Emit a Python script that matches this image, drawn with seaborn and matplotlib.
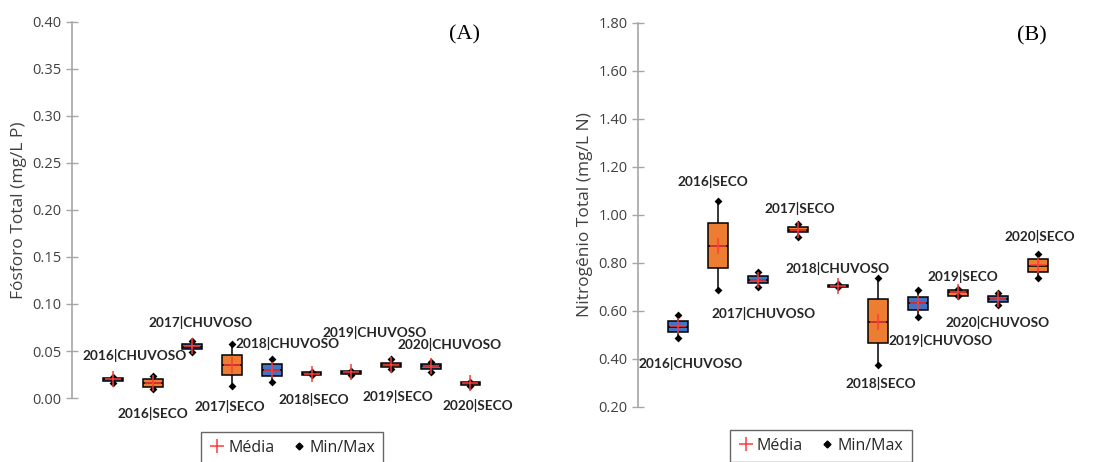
import numpy as np
import pandas as pd
import seaborn as sns
import matplotlib.pyplot as plt
from matplotlib.lines import Line2D

categories = ["2016|CHUVOSO", "2016|SECO", "2017|CHUVOSO", "2017|SECO",
              "2018|CHUVOSO", "2018|SECO", "2019|CHUVOSO", "2019|SECO",
              "2020|CHUVOSO", "2020|SECO"]
seasons = ["CHUVOSO", "SECO"] * 5

# Fosforo total (mg/L P)
p_min = [0.016, 0.0096, 0.049, 0.0132, 0.017, 0.0243, 0.025, 0.031, 0.028, 0.0133]
p_q1 = [0.0186, 0.0118, 0.052, 0.0243, 0.0232, 0.0244, 0.026, 0.033, 0.031, 0.0135]
p_med = [0.020, 0.016, 0.0546, 0.035, 0.030, 0.026, 0.0275, 0.035, 0.034, 0.016]
p_q3 = [0.0214, 0.0204, 0.057, 0.0457, 0.0364, 0.0274, 0.029, 0.0375, 0.0364, 0.0170]
p_max = [0.022, 0.023, 0.061, 0.057, 0.042, 0.0275, 0.0292, 0.041, 0.038, 0.0172]
p_mean = [0.020, 0.016, 0.055, 0.035, 0.030, 0.026, 0.028, 0.035, 0.034, 0.016]

# Nitrogenio total (mg/L N)
n_min = [0.485, 0.686, 0.700, 0.908, 0.697, 0.374, 0.572, 0.661, 0.624, 0.735]
n_q1 = [0.510, 0.779, 0.714, 0.926, 0.698, 0.467, 0.603, 0.663, 0.6375, 0.7625]
n_med = [0.533, 0.871, 0.730, 0.936, 0.704, 0.554, 0.631, 0.676, 0.649, 0.7875]
n_q3 = [0.557, 0.964, 0.744, 0.950, 0.709, 0.647, 0.656, 0.685, 0.661, 0.814]
n_max = [0.583, 1.058, 0.761, 0.961, 0.710, 0.735, 0.686, 0.692, 0.672, 0.836]
n_mean = [0.535, 0.871, 0.730, 0.936, 0.705, 0.554, 0.631, 0.676, 0.649, 0.790]

# label offsets (pixels) from each mean point
p_label_off = [(22, 24), (0, -31), (8, 24), (-2, -41), (16, 26),
               (2, -26), (23, 39), (7, -31), (19, 22), (7, -23)]
n_label_off = [(13, -37), (-5, 64), (6, -34), (2, 22), (0, 17),
               (3, -62), (23, -37), (5, 16), (0, -24), (2, 29)]

palette = {"CHUVOSO": "#4472C4", "SECO": "#ED7D31"}

sns.set_theme(style="white")
plt.rcParams["font.family"] = ["Open Sans", "DejaVu Sans"]


def long_table(mins, q1s, meds, q3s, maxs):
    rows = []
    for cat, sea, a, b, c, d, e in zip(categories, seasons, mins, q1s, meds, q3s, maxs):
        for v in (a, b, c, d, e):
            rows.append({"cat": cat, "season": sea, "value": v})
    return pd.DataFrame(rows)


def draw_panel(ax, df, mins, maxs, means, offs, ylim, ylabel, tag, leg_x, leg_y):
    sns.boxplot(data=df, x="cat", y="value", hue="season", order=categories,
                palette=palette, saturation=1, dodge=False, width=0.5,
                whis=(0, 100), showcaps=False, showfliers=False,
                linecolor="black", linewidth=1.1, legend=False, ax=ax)
    sns.stripplot(x=categories, y=mins, order=categories, jitter=False,
                  color="black", marker="D", size=4, linewidth=0, ax=ax)
    sns.stripplot(x=categories, y=maxs, order=categories, jitter=False,
                  color="black", marker="D", size=4, linewidth=0, ax=ax)
    sns.stripplot(x=categories, y=means, order=categories, jitter=False,
                  color="#FF3B3B", marker="+", size=12, linewidth=1.1, ax=ax)

    for i, (cat, m, (dx, dy)) in enumerate(zip(categories, means, offs)):
        ax.annotate(cat, xy=(i, m), xytext=(dx, dy), textcoords="offset pixels",
                    ha="center", va="center", fontsize=9.8, fontweight="bold",
                    family="Lato", color="#262626")

    ax.set_ylim(*ylim)
    ax.set_xlim(-1.03, 10)
    ax.set_xticks([])
    ax.set_xlabel("")
    ax.set_ylabel(ylabel, fontsize=12.5, color="#404040")
    ax.yaxis.set_major_formatter(plt.FormatStrFormatter("%.2f"))
    ax.tick_params(axis="y", direction="inout", length=8, width=1,
                   color="#A6A6A6", labelsize=10.5, labelcolor="#404040", left=True)
    for s in ("top", "right", "bottom"):
        ax.spines[s].set_visible(False)
    ax.spines["left"].set_color("#A6A6A6")
    ax.spines["left"].set_linewidth(1.2)
    ax.text(0.895, 0.965, tag, transform=ax.transAxes, ha="center", va="center",
            fontsize=16, family="Liberation Serif", color="black")

    handles = [Line2D([], [], marker="+", color="#FF3B3B", ls="none",
                      markersize=10, markeredgewidth=1.1),
               Line2D([], [], marker="D", color="black", ls="none", markersize=3.5)]
    leg = ax.legend(handles, ["Média", "Min/Max"], ncol=2, loc="upper center",
                    bbox_to_anchor=(leg_x, leg_y), borderaxespad=0,
                    frameon=True, fancybox=False,
                    fontsize=11.5, handlelength=1.0, handletextpad=0.2,
                    columnspacing=1.0, borderpad=0.5)
    leg.get_frame().set_edgecolor("#404040")
    leg.get_frame().set_linewidth(1.0)


fig = plt.figure(figsize=(11.01, 4.62), dpi=100)
ax1 = fig.add_axes([0.0654, 0.1385, 0.398, 0.814])
ax2 = fig.add_axes([0.5795, 0.1197, 0.3996, 0.831])

draw_panel(ax1, long_table(p_min, p_q1, p_med, p_q3, p_max), p_min, p_max, p_mean,
           p_label_off, (0, 0.40), "Fósforo Total (mg/L P)", "(A)", 0.503, -0.09)
draw_panel(ax2, long_table(n_min, n_q1, n_med, n_q3, n_max), n_min, n_max, n_mean,
           n_label_off, (0.2, 1.8), "Nitrogênio Total (mg/L N)", "(B)", 0.415, -0.06)
ax2.set_xlim(-1.0, 10)

fig.savefig("out.png", dpi=100)
